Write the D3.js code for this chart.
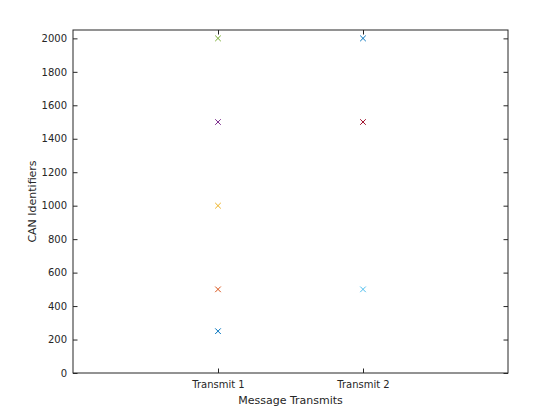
<!DOCTYPE html>
<html>
<head>
<meta charset="utf-8">
<script src="https://cdn.jsdelivr.net/npm/d3@7"></script>
<style>
  body { margin: 0; background: #fff; }
  text { font-family: "DejaVu Sans", sans-serif; fill: #262626; }
</style>
</head>
<body>
<div id="wrapper"></div>
<script>
// data
var categories = ["Transmit 1", "Transmit 2"];
var transmit1Ids = [250, 500, 1000, 1500, 2000];
var transmit2Ids = [500, 1500, 2000];
var yTicks = [0, 200, 400, 600, 800, 1000, 1200, 1400, 1600, 1800, 2000];
var colorOrder = ["#0072BD", "#D95319", "#EDB120", "#7E2F8E", "#77AC30", "#4DBEEE", "#A2142F"];

drawScatter('#wrapper');

function drawScatter(dom_element_to_append_to) {
  var width = 560, height = 420;
  var margin = {top: 30, right: 52, bottom: 47, left: 73};
  var innerW = width - margin.left - margin.right,
      innerH = height - margin.top - margin.bottom;

  // flatten points in plot order so colours cycle like the original
  var points = [];
  transmit1Ids.forEach(function(v) { points.push({cat: 1, id: v}); });
  transmit2Ids.forEach(function(v) { points.push({cat: 2, id: v}); });
  points.forEach(function(p, i) { p.color = colorOrder[i % colorOrder.length]; });

  var x = d3.scaleLinear().domain([0, 3]).range([0, innerW]);
  var y = d3.scaleLinear().domain([0, 2050]).range([innerH, 0]);

  var svg = d3.select(dom_element_to_append_to)
    .append("svg")
    .attr("width", width)
    .attr("height", height)
    .append("g")
    .attr("transform", "translate(" + margin.left + "," + margin.top + ")");

  var tickLen = 4.5;

  // bottom axis
  var xAxis = d3.axisBottom(x).tickValues([1, 2])
    .tickFormat(function(d) { return categories[d - 1]; })
    .tickSizeInner(-tickLen).tickSizeOuter(0).tickPadding(8);
  var gx = svg.append("g").attr("transform", "translate(0," + innerH + ")").call(xAxis);
  // top ticks
  var gxt = svg.append("g").call(d3.axisTop(x).tickValues([1, 2]).tickFormat("")
    .tickSizeInner(-tickLen).tickSizeOuter(0));

  var yAxis = d3.axisLeft(y).tickValues(yTicks).tickFormat(d3.format("d"))
    .tickSizeInner(-tickLen).tickSizeOuter(0).tickPadding(6);
  var gy = svg.append("g").call(yAxis);
  var gyr = svg.append("g").attr("transform", "translate(" + innerW + ",0)")
    .call(d3.axisRight(y).tickValues(yTicks).tickFormat("").tickSizeInner(-tickLen).tickSizeOuter(0));

  [gx, gxt, gy, gyr].forEach(function(g) {
    g.select(".domain").remove();
    g.selectAll("line").attr("stroke", "#262626");
    g.selectAll("text").style("font-size", "10px").attr("fill", "#262626");
  });

  // box
  svg.append("rect")
    .attr("x", 0).attr("y", 0)
    .attr("width", innerW).attr("height", innerH)
    .attr("fill", "none").attr("stroke", "#262626").attr("stroke-width", 1);

  // markers
  var s = 2.8;
  var marks = svg.selectAll(".mark")
    .data(points)
    .enter()
    .append("path")
    .attr("class", "mark")
    .attr("d", function(d) {
      var cx = x(d.cat), cy = y(d.id);
      return "M" + (cx - s) + "," + (cy - s) + "L" + (cx + s) + "," + (cy + s) +
             "M" + (cx - s) + "," + (cy + s) + "L" + (cx + s) + "," + (cy - s);
    })
    .attr("stroke", function(d) { return d.color; })
    .attr("stroke-width", 1)
    .attr("fill", "none");

  // labels
  svg.append("text")
    .attr("x", innerW / 2).attr("y", innerH + 31)
    .attr("text-anchor", "middle")
    .style("font-size", "11px")
    .text("Message Transmits");

  svg.append("text")
    .attr("transform", "translate(-37," + innerH / 2 + ") rotate(-90)")
    .attr("text-anchor", "middle")
    .style("font-size", "11px")
    .text("CAN Identifiers");
}
</script>
</body>
</html>
